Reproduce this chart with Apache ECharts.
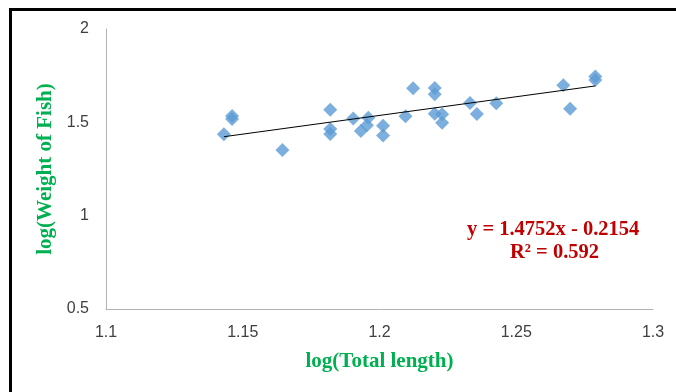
<!DOCTYPE html>
<html>
<head>
<meta charset="utf-8">
<script src="https://cdn.jsdelivr.net/npm/echarts@6/dist/echarts.min.js"></script>
<style>
  html, body { margin: 0; padding: 0; background: #fff; }
  #frame { position: absolute; left: 9px; top: 8px; width: 667px; height: 384px;
           border-left: 3px solid #000; border-top: 3px solid #000; }
  #main { position: absolute; left: 0; top: 0; width: 676px; height: 392px; }
</style>
</head>
<body>
<div id="frame"></div>
<div id="main"></div>
<script>
// log(Total length), log(Weight of Fish) pairs
const logLength = [
  1.1431, 1.1461, 1.1461, 1.1645, 1.1820, 1.1820, 1.1820, 1.1904, 1.1959,
  1.1954, 1.1932, 1.2013, 1.2013, 1.2095, 1.2123, 1.2202, 1.2202, 1.2202,
  1.2229, 1.2229, 1.2331, 1.2356, 1.2427, 1.2672, 1.2697, 1.2789, 1.2789
];
const logWeight = [
  1.436, 1.534, 1.518, 1.352, 1.568, 1.464, 1.438, 1.520, 1.525,
  1.484, 1.454, 1.482, 1.429, 1.532, 1.682, 1.684, 1.650, 1.546,
  1.543, 1.498, 1.604, 1.545, 1.602, 1.698, 1.573, 1.745, 1.727
];
// trend line ends as drawn
const trendX = [1.1431, 1.2789];
const trendY = [1.423, 1.695];
const equationText = "y = 1.4752x - 0.2154";
const rSquaredText = "R² = 0.592";

const chart = echarts.init(document.getElementById("main"));

const option = {
  animation: false,
  grid: { left: 106, right: 23, top: 29, bottom: 83 },
  xAxis: {
    type: "value",
    min: 1.1, max: 1.3, interval: 0.05,
    name: "log(Total length)",
    nameLocation: "middle",
    nameGap: 42,
    nameTextStyle: { color: "#00b050", fontFamily: "Liberation Serif", fontWeight: "bold", fontSize: 21 },
    axisLine: { lineStyle: { color: "#b3b3b3", width: 1 } },
    axisTick: { show: false },
    splitLine: { show: false },
    axisLabel: { color: "#404040", fontFamily: "Liberation Sans", fontSize: 16, margin: 16 }
  },
  yAxis: {
    type: "value",
    min: 0.5, max: 2, interval: 0.5,
    name: "log(Weight of Fish)",
    nameLocation: "middle",
    nameGap: 48,
    nameTextStyle: { color: "#00b050", fontFamily: "Liberation Serif", fontWeight: "bold", fontSize: 21 },
    axisLine: { show: true, lineStyle: { color: "#b3b3b3", width: 1 } },
    axisTick: { show: false },
    splitLine: { show: false },
    axisLabel: { color: "#404040", fontFamily: "Liberation Sans", fontSize: 16, margin: 17 }
  },
  series: [
    {
      type: "line",
      data: trendX.map((x, i) => [x, trendY[i]]),
      symbol: "none",
      lineStyle: { color: "#000", width: 1 },
      z: 3
    },
    {
      type: "scatter",
      data: logLength.map((x, i) => [x, logWeight[i]]),
      symbol: "diamond",
      symbolSize: [14, 14],
      itemStyle: { color: "#5b9bd5" },
      z: 2
    }
  ],
  graphic: [
    {
      type: "text", left: 467, top: 219,
      style: { text: equationText, fill: "#c00000", font: "bold 20.5px 'Liberation Serif'" }
    },
    {
      type: "text", left: 510, top: 242,
      style: { text: rSquaredText, fill: "#c00000", font: "bold 20.5px 'Liberation Serif'" }
    }
  ]
};

chart.setOption(option);
</script>
</body>
</html>
